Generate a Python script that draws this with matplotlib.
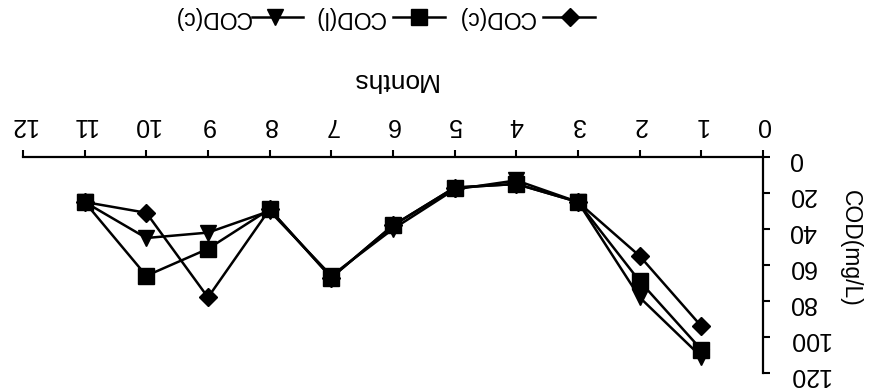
import matplotlib
matplotlib.use("Agg")
import matplotlib.pyplot as plt
from matplotlib.lines import Line2D

plt.rcParams['font.family'] = ['Liberation Sans', 'DejaVu Sans']

months = [1, 2, 3, 4, 5, 6, 7, 8, 9, 10, 11]
cod_diamond = [94, 55, 25, 15, 17, 38, 67, 29, 78, 31, 25]
cod_square = [107, 69, 25, 15, 17, 38, 67, 29, 51, 66, 25]
cod_triangle = [111, 78, 25, 13, 18, 40, 66, 30, 42, 45, 25]
labels = ["COD(c)", "COD(l)", "COD(c)"]
xticks = list(range(0, 13))
yticks = list(range(0, 121, 20))

fig = plt.figure(figsize=(8.73, 3.88), dpi=100)
ax = fig.add_axes([23/873, 1-373/388, (763-23)/873, (373-157)/388])

series = [
    (cod_triangle, 'v', 12),
    (cod_square, 's', 11),
    (cod_diamond, 'D', 9),
]
for vals, mk, ms in series:
    ax.plot(months, vals, color='black', lw=1.8, marker=mk, markersize=ms,
            markerfacecolor='black', markeredgecolor='black')

ax.set_xlim(0, 12)
ax.set_ylim(0, 120)
ax.invert_xaxis()
ax.invert_yaxis()
ax.set_xticks(xticks)
ax.set_yticks(yticks)
ax.xaxis.tick_top()
ax.yaxis.tick_right()
for s in ['left', 'bottom']:
    ax.spines[s].set_visible(False)
for s in ['top', 'right']:
    ax.spines[s].set_linewidth(1.6)
ax.tick_params(axis='both', direction='out', length=5, width=1.5, labelsize=18)
ax.tick_params(axis='x', pad=18)
ax.tick_params(axis='y', pad=13)
for lab in ax.get_xticklabels():
    lab.set_rotation(180)
    lab.set_va('center')
for lab in ax.get_yticklabels():
    lab.set_rotation(180)

fig.text(394/873, 1-80/388, "Months", rotation=180, ha='center', va='center', fontsize=19)
fig.text(850/873, 1-248/388, "COD(mg/L)", rotation=270, ha='center', va='center', fontsize=16.5)

# legend (rotated 180 like the rest of the figure)
leg_entries = [
    ('D', 9, labels[0], 543, 595, 570, 496),
    ('s', 11, labels[1], 393, 445, 419, 349),
    ('v', 12, labels[2], 252, 303, 275, 212),
]
ly = 1 - 17/388
for mk, ms, lab, x0, x1, xm, xt in leg_entries:
    fig.add_artist(Line2D([x0/873, x1/873], [ly, ly], color='black', lw=1.8,
                          transform=fig.transFigure))
    fig.add_artist(Line2D([xm/873], [ly], marker=mk, markersize=ms,
                          color='black', transform=fig.transFigure))
    fig.text(xt/873, ly, lab, rotation=180, ha='center', va='center', fontsize=16.5)

fig.savefig("out.png", dpi=100)
